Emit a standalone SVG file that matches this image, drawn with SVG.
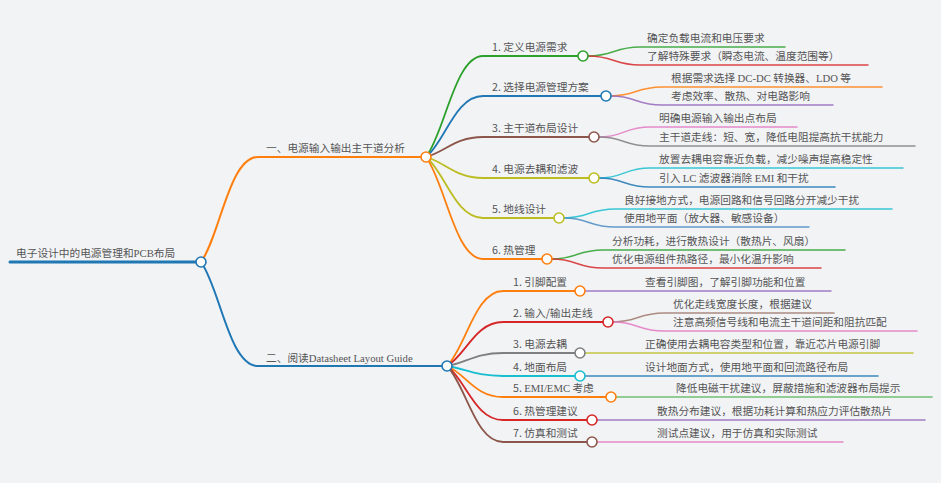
<svg xmlns="http://www.w3.org/2000/svg" width="941" height="483" viewBox="0 0 941 483">
<style>
text{font-family:"Noto Sans CJK SC","Noto Sans",sans-serif;font-size:10.7px;fill:#555}
.l{font-family:"Liberation Serif","Noto Sans CJK SC",serif}
.c{fill:none;stroke-linecap:round}
.b{stroke-width:2}
.s{stroke-width:1.8}
.f{stroke-width:1.5;stroke-opacity:.85}
circle{fill:#fff;stroke-width:1.6}
</style>
<rect width="941" height="483" fill="#f2f3f5"/>
<g id="connectors">
<path class="c" d="M10,262 H196" stroke="#1f77b4" stroke-width="3"/>
<path class="c b" d="M201,262 C220,236 229,157 258,157 H421" stroke="#ff7f0e"/>
<path class="c b" d="M201,262 C220,288 229,366 258,366 H442" stroke="#1f77b4"/>
<!-- branch 1 subs -->
<path class="c s" d="M426,157 C445,132 455,56 483,56 H578" stroke="#2ca02c"/>
<path class="c s" d="M426,157 C445,142 455,96 483,96 H601" stroke="#1f77b4"/>
<path class="c s" d="M426,157 C445,152 455,137 483,137 H589" stroke="#8c564b"/>
<path class="c s" d="M426,157 C445,162 455,178 483,178 H589" stroke="#bcbd22"/>
<path class="c s" d="M426,157 C445,172 455,218 483,218 H554" stroke="#bcbd22"/>
<path class="c s" d="M426,157 C445,182 455,259 483,259 H542" stroke="#ff7f0e"/>
<!-- branch 1 leaves -->
<path class="c f" d="M588,56 C614,56 614,47 640,47 H785" stroke="#2ca02c"/>
<path class="c f" d="M588,56 C614,56 614,65 640,65 H868" stroke="#d62728"/>
<path class="c f" d="M611,96 C636,96 636,87 662,87 H882" stroke="#ff7f0e"/>
<path class="c f" d="M611,96 C636,96 636,105 662,105 H833" stroke="#9467bd"/>
<path class="c f" d="M599,137 C624,137 624,127 650,127 H797" stroke="#e377c2"/>
<path class="c f" d="M599,137 C624,137 624,146 650,146 H915" stroke="#7f7f7f"/>
<path class="c f" d="M599,178 C624,178 624,168 650,168 H903" stroke="#17becf"/>
<path class="c f" d="M599,178 C624,178 624,187 650,187 H835" stroke="#1f77b4"/>
<path class="c f" d="M564,218 C589,218 589,209 615,209 H892" stroke="#17becf"/>
<path class="c f" d="M564,218 C589,218 589,227 615,227 H809" stroke="#4a8cc4"/>
<path class="c f" d="M552,259 C577,259 577,250 603,250 H845" stroke="#2ca02c"/>
<path class="c f" d="M552,259 C577,259 577,268 603,268 H821" stroke="#d62728"/>
<!-- branch 2 subs -->
<path class="c s" d="M447,366 C466,347 475,291 503,291 H575" stroke="#ff7f0e"/>
<path class="c s" d="M447,366 C466,355 475,322 503,322 H603" stroke="#d62728"/>
<path class="c s" d="M447,366 C466,363 475,353 503,353 H575" stroke="#7f7f7f"/>
<path class="c s" d="M447,366 C466,369 475,376 503,376 H575" stroke="#17becf"/>
<path class="c s" d="M447,366 C466,374 475,397 503,397 H606" stroke="#ff7f0e"/>
<path class="c s" d="M447,366 C466,380 475,420 503,420 H587" stroke="#d62728"/>
<path class="c s" d="M447,366 C466,385 475,442 503,442 H587" stroke="#8c564b"/>
<!-- branch 2 leaves -->
<path class="c f" d="M585,291 H831" stroke="#9467bd"/>
<path class="c f" d="M613,322 C638,322 638,313 664,313 H834" stroke="#a0796d"/>
<path class="c f" d="M613,322 C638,322 638,331 664,331 H917" stroke="#e377c2"/>
<path class="c f" d="M585,353 H913" stroke="#bcbd22"/>
<path class="c f" d="M585,376 H878" stroke="#1f77b4"/>
<path class="c f" d="M616,397 H932" stroke="#5cb55c"/>
<path class="c f" d="M597,420 H925" stroke="#9467bd"/>
<path class="c f" d="M597,442 H843" stroke="#e377c2"/>
</g>
<g id="root"><text x="16" y="257">电子设计中的电源管理和<tspan class="l">PCB</tspan>布局</text><circle cx="201" cy="262" r="5" stroke="#1f77b4"/></g>
<g id="b1"><text x="266" y="152">一、电源输入输出主干道分析</text><circle cx="426" cy="157" r="5" stroke="#ff7f0e"/></g>
<g id="b2"><text x="266" y="362">二、阅读<tspan class="l">Datasheet Layout Guide</tspan></text><circle cx="447" cy="366" r="5" stroke="#1f77b4"/></g>
<g id="b1s1"><text x="492" y="51">1. 定义电源需求</text><circle cx="583" cy="56" r="5" stroke="#2ca02c"/></g>
<g id="b1s2"><text x="492" y="91">2. 选择电源管理方案</text><circle cx="606" cy="96" r="5" stroke="#1f77b4"/></g>
<g id="b1s3"><text x="492" y="132">3. 主干道布局设计</text><circle cx="594" cy="137" r="5" stroke="#8c564b"/></g>
<g id="b1s4"><text x="492" y="173">4. 电源去耦和滤波</text><circle cx="594" cy="178" r="5" stroke="#bcbd22"/></g>
<g id="b1s5"><text x="492" y="213">5. 地线设计</text><circle cx="559" cy="218" r="5" stroke="#bcbd22"/></g>
<g id="b1s6"><text x="492" y="254">6. 热管理</text><circle cx="547" cy="259" r="5" stroke="#ff7f0e"/></g>
<g id="l11"><text x="647" y="42">确定负载电流和电压要求</text></g>
<g id="l12"><text x="647" y="60">了解特殊要求（瞬态电流、温度范围等）</text></g>
<g id="l21"><text x="671" y="82">根据需求选择 <tspan class="l">DC-DC</tspan> 转换器、<tspan class="l">LDO</tspan> 等</text></g>
<g id="l22"><text x="671" y="100">考虑效率、散热、对电路影响</text></g>
<g id="l31"><text x="659" y="122">明确电源输入输出点布局</text></g>
<g id="l32"><text x="659" y="141">主干道走线：短、宽，降低电阻提高抗干扰能力</text></g>
<g id="l41"><text x="659" y="163">放置去耦电容靠近负载，减少噪声提高稳定性</text></g>
<g id="l42"><text x="659" y="182">引入 <tspan class="l">LC</tspan> 滤波器消除 <tspan class="l">EMI</tspan> 和干扰</text></g>
<g id="l51"><text x="624" y="204">良好接地方式，电源回路和信号回路分开减少干扰</text></g>
<g id="l52"><text x="624" y="222">使用地平面（放大器、敏感设备）</text></g>
<g id="l61"><text x="612" y="245">分析功耗，进行散热设计（散热片、风扇）</text></g>
<g id="l62"><text x="612" y="263">优化电源组件热路径，最小化温升影响</text></g>
<g id="b2s1"><text x="513" y="286">1. 引脚配置</text><circle cx="580" cy="291" r="5" stroke="#ff7f0e"/></g>
<g id="b2s2"><text x="513" y="317">2. 输入/输出走线</text><circle cx="608" cy="322" r="5" stroke="#d62728"/></g>
<g id="b2s3"><text x="513" y="348">3. 电源去耦</text><circle cx="580" cy="353" r="5" stroke="#7f7f7f"/></g>
<g id="b2s4"><text x="513" y="371">4. 地面布局</text><circle cx="580" cy="376" r="5" stroke="#17becf"/></g>
<g id="b2s5"><text x="513" y="392">5. <tspan class="l">EMI/EMC</tspan> 考虑</text><circle cx="611" cy="397" r="5" stroke="#ff7f0e"/></g>
<g id="b2s6"><text x="513" y="415">6. 热管理建议</text><circle cx="592" cy="420" r="5" stroke="#d62728"/></g>
<g id="b2s7"><text x="513" y="437">7. 仿真和测试</text><circle cx="592" cy="442" r="5" stroke="#8c564b"/></g>
<g id="m11"><text x="645" y="286">查看引脚图，了解引脚功能和位置</text></g>
<g id="m21"><text x="673" y="308">优化走线宽度长度，根据建议</text></g>
<g id="m22"><text x="673" y="326">注意高频信号线和电流主干道间距和阻抗匹配</text></g>
<g id="m31"><text x="645" y="348">正确使用去耦电容类型和位置，靠近芯片电源引脚</text></g>
<g id="m41"><text x="645" y="371">设计地面方式，使用地平面和回流路径布局</text></g>
<g id="m51"><text x="676" y="392">降低电磁干扰建议，屏蔽措施和滤波器布局提示</text></g>
<g id="m61"><text x="657" y="415">散热分布建议，根据功耗计算和热应力评估散热片</text></g>
<g id="m71"><text x="657" y="437">测试点建议，用于仿真和实际测试</text></g>
</svg>
